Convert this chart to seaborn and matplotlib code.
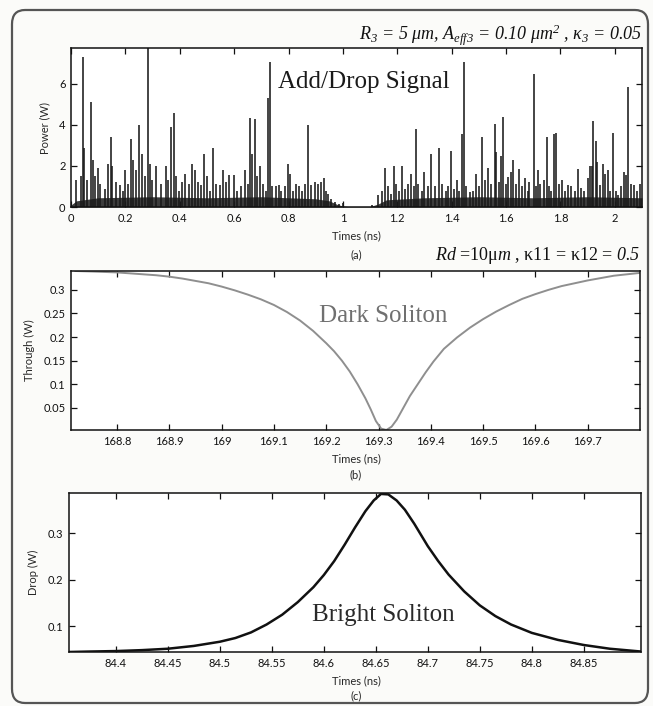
import numpy as np
import pandas as pd
import matplotlib
matplotlib.use("Agg")
import matplotlib.pyplot as plt
from matplotlib.patches import FancyBboxPatch
from matplotlib.ticker import FuncFormatter
import seaborn as sns

# ---------------- data ----------------
# (a) Add/Drop signal: spike times (ns) and peak powers (W)
spike_t = [0.020, 0.035, 0.043, 0.048, 0.060, 0.075, 0.082, 0.090, 0.099, 0.108,
           0.124, 0.136, 0.146, 0.152, 0.167, 0.180, 0.190, 0.200, 0.210, 0.220,
           0.229, 0.240, 0.250, 0.262, 0.273, 0.284, 0.290, 0.298, 0.314, 0.332,
           0.348, 0.357, 0.368, 0.379, 0.387, 0.397, 0.410, 0.420, 0.434, 0.445,
           0.455, 0.467, 0.479, 0.489, 0.499, 0.510, 0.523, 0.535, 0.547, 0.560,
           0.571, 0.582, 0.598, 0.611, 0.626, 0.641, 0.651, 0.658, 0.665, 0.676,
           0.685, 0.695, 0.706, 0.717, 0.725, 0.733, 0.740, 0.755, 0.764, 0.773,
           0.788, 0.798, 0.805, 0.817, 0.828, 0.840, 0.850, 0.860, 0.873, 0.881,
           0.896, 0.908, 0.918, 0.930, 0.939, 0.947, 0.957, 0.970, 0.984, 1.000,
           1.107, 1.129, 1.144, 1.156, 1.166, 1.178, 1.188, 1.195, 1.207, 1.217,
           1.229, 1.241, 1.251, 1.260, 1.270, 1.278, 1.290, 1.300, 1.312, 1.324,
           1.340, 1.354, 1.366, 1.379, 1.388, 1.397, 1.408, 1.419, 1.428, 1.438,
           1.445, 1.454, 1.466, 1.477, 1.489, 1.499, 1.513, 1.523, 1.532, 1.543,
           1.558, 1.563, 1.573, 1.580, 1.588, 1.599, 1.609, 1.619, 1.626, 1.636,
           1.646, 1.658, 1.668, 1.679, 1.686, 1.701, 1.710, 1.717, 1.726, 1.738,
           1.750, 1.759, 1.766, 1.776, 1.783, 1.793, 1.805, 1.818, 1.827, 1.840,
           1.852, 1.864, 1.876, 1.888, 1.900, 1.908, 1.915, 1.921, 1.929, 1.935,
           1.945, 1.955, 1.964, 1.974, 1.983, 1.992, 2.003, 2.013, 2.023, 2.032,
           2.040, 2.049, 2.058, 2.069, 2.081, 2.093]
spike_p = [1.3, 1.5, 7.3, 2.9, 1.3, 5.1, 2.3, 1.5, 1.9, 1.1,
           0.9, 2.1, 3.4, 2.0, 1.2, 1.05, 0.8, 1.8, 1.1, 3.3,
           2.3, 1.8, 4.0, 2.6, 1.5, 8.0, 2.1, 1.3, 2.0, 1.1,
           2.0, 1.3, 3.9, 4.6, 1.5, 0.8, 1.2, 1.6, 1.1, 2.1,
           1.8, 1.2, 1.05, 2.6, 1.5, 0.8, 2.9, 1.1, 1.05, 1.8,
           1.2, 1.55, 1.55, 0.8, 1.0, 1.8, 1.1, 4.35, 2.6, 4.3,
           1.5, 2.0, 1.1, 0.8, 5.3, 7.07, 1.0, 1.0, 1.05, 0.8,
           1.0, 2.1, 1.6, 0.8, 1.1, 1.0, 0.8, 1.1, 4.0, 1.05,
           1.2, 1.1, 1.2, 1.4, 0.8, 0.65, 0.4, 0.25, 0.15, 0.2,
           0.08, 0.57, 0.8, 1.9, 1.0, 0.65, 2.0, 1.1, 0.8, 2.0,
           0.9, 1.1, 1.6, 1.0, 3.8, 1.1, 0.8, 1.7, 1.0, 2.6,
           1.0, 2.9, 1.1, 0.8, 1.0, 2.75, 0.9, 1.3, 0.8, 3.55,
           7.05, 1.0, 0.75, 0.8, 1.6, 1.0, 3.4, 1.3, 1.9, 1.1,
           4.05, 2.7, 1.2, 2.5, 4.4, 1.1, 1.45, 1.7, 2.3, 1.1,
           1.85, 1.0, 1.4, 0.8, 1.2, 6.5, 1.0, 1.8, 1.1, 1.3,
           3.4, 1.0, 0.8, 3.55, 3.6, 1.1, 1.3, 0.8, 1.05, 1.0,
           0.8, 1.85, 0.95, 0.8, 1.4, 2.0, 2.0, 4.2, 3.2, 2.2,
           1.05, 2.1, 1.6, 1.8, 0.8, 3.6, 0.8, 0.57, 1.0, 1.7,
           1.55, 5.85, 1.1, 1.05, 0.8, 1.1]
# dense noise floor under the spikes (envelope)
floor_t = [0.0, 0.02, 0.10, 0.30, 0.50, 0.70, 0.90, 0.95, 0.98, 1.00, 1.02,
           1.10, 1.13, 1.16, 1.30, 1.50, 1.70, 1.90, 2.10]
floor_p = [0.10, 0.30, 0.45, 0.50, 0.45, 0.50, 0.40, 0.30, 0.12, 0.05, 0.02,
           0.02, 0.15, 0.35, 0.45, 0.50, 0.45, 0.50, 0.45]

# (b) Dark soliton (through port)
dark_t = [168.72, 168.75, 168.775, 168.80, 168.825, 168.85, 168.875, 168.90,
          168.925, 168.95, 168.975, 169.00, 169.025, 169.05, 169.075, 169.10,
          169.125, 169.15, 169.175, 169.20, 169.215, 169.23, 169.245, 169.26,
          169.275, 169.285, 169.295, 169.305, 169.315, 169.325, 169.335, 169.345,
          169.36, 169.375, 169.39, 169.405, 169.425, 169.45, 169.475, 169.50,
          169.525, 169.55, 169.575, 169.60, 169.625, 169.65, 169.675, 169.70,
          169.725, 169.75, 169.775, 169.80]
dark_p = [0.340, 0.339, 0.338, 0.337, 0.335, 0.333, 0.331, 0.328,
          0.324, 0.319, 0.314, 0.307, 0.299, 0.290, 0.280, 0.268,
          0.253, 0.235, 0.213, 0.187, 0.170, 0.150, 0.127, 0.100,
          0.070, 0.047, 0.022, 0.006, 0.003, 0.010, 0.025, 0.045,
          0.075, 0.100, 0.125, 0.148, 0.175, 0.199, 0.220, 0.238,
          0.254, 0.268, 0.281, 0.291, 0.300, 0.308, 0.314, 0.320,
          0.325, 0.330, 0.333, 0.336]

# (c) Bright soliton (drop port)
bright_t = [84.355, 84.375, 84.40, 84.425, 84.45, 84.475, 84.50, 84.515, 84.53,
            84.545, 84.56, 84.575, 84.59, 84.60, 84.61, 84.62, 84.63, 84.64,
            84.648, 84.655, 84.662, 84.67, 84.678, 84.687, 84.70, 84.71, 84.72,
            84.735, 84.75, 84.765, 84.78, 84.80, 84.825, 84.85, 84.875, 84.905]
bright_p = [0.045, 0.046, 0.047, 0.049, 0.052, 0.058, 0.067, 0.075, 0.087,
            0.104, 0.125, 0.152, 0.184, 0.210, 0.240, 0.275, 0.312, 0.347,
            0.370, 0.384, 0.383, 0.370, 0.350, 0.320, 0.272, 0.240, 0.211,
            0.175, 0.145, 0.122, 0.104, 0.086, 0.071, 0.060, 0.052, 0.046]

ticks_a = [0, 0.2, 0.4, 0.6, 0.8, 1.0, 1.2, 1.4, 1.6, 1.8, 2.0]
yticks_a = [0, 2, 4, 6]
ticks_b = [168.8, 168.9, 169.0, 169.1, 169.2, 169.3, 169.4, 169.5, 169.6, 169.7]
yticks_b = [0.05, 0.1, 0.15, 0.2, 0.25, 0.3]
ticks_c = [84.4, 84.45, 84.5, 84.55, 84.6, 84.65, 84.7, 84.75, 84.8, 84.85]
yticks_c = [0.1, 0.2, 0.3]

# ---------------- style ----------------
sns.set_theme(style="ticks")
plt.rcParams['font.family'] = ['Lato', 'DejaVu Sans']
plt.rcParams['mathtext.fontset'] = 'custom'
plt.rcParams['mathtext.rm'] = 'Liberation Serif:italic'
plt.rcParams['mathtext.it'] = 'Liberation Serif:italic'
plt.rcParams['mathtext.bf'] = 'Liberation Serif:bold'

W, H = 653, 706
fig = plt.figure(figsize=(W / 100, H / 100), dpi=100)
fig.patch.set_facecolor('#fbfbf9')

def box(l, r, t, b):
    return [l / W, 1 - b / H, (r - l) / W, (b - t) / H]

ax_a = fig.add_axes(box(71, 642, 48, 207))
ax_b = fig.add_axes(box(71, 640, 271, 430))
ax_c = fig.add_axes(box(69, 641, 493, 652))

fmt = FuncFormatter(lambda v, p: ('%g' % round(v, 4)))

def style(ax, xt, yt):
    ax.set_facecolor('white')
    for s in ax.spines.values():
        s.set_visible(True)
        s.set_linewidth(1.1)
        s.set_color('#111111')
    ax.set_xticks(xt)
    ax.set_yticks(yt)
    ax.xaxis.set_major_formatter(fmt)
    ax.yaxis.set_major_formatter(fmt)
    ax.tick_params(direction='in', length=4, width=0.9, top=True, right=True,
                   labelsize=8, colors='#111111', pad=4)
    ax.grid(False)

# (a)
ax_a.fill_between(floor_t, 0, floor_p, color='#1a1a1a', alpha=0.85, linewidth=0)
ax_a.vlines(spike_t, 0, spike_p, color='#1a1a1a', linewidth=1.15)
ax_a.set_xlim(0, 2.1)
ax_a.set_ylim(0, 7.75)
style(ax_a, ticks_a, yticks_a)
ax_a.set_ylabel('Power (W)', fontsize=8, labelpad=6)
ax_a.text(1.077, 6.1, 'Add/Drop Signal', family='Liberation Serif', fontsize=18,
          ha='center', va='center', color='#1a1a1a')

# (b)
df_b = pd.DataFrame({'t': dark_t, 'p': dark_p})
sns.lineplot(data=df_b, x='t', y='p', ax=ax_b, color='#8f8f8f', linewidth=1.4)
ax_b.set_xlim(168.712, 169.80)
ax_b.set_ylim(0.003, 0.34)
style(ax_b, ticks_b, yticks_b)
ax_b.set_ylabel('Through (W)', fontsize=8, labelpad=6)
ax_b.text(169.308, 0.245, 'Dark Soliton', family='Liberation Serif', fontsize=18,
          ha='center', va='center', color='#707070')

# (c)
df_c = pd.DataFrame({'t': bright_t, 'p': bright_p})
sns.lineplot(data=df_c, x='t', y='p', ax=ax_c, color='#111111', linewidth=1.8)
ax_c.set_xlim(84.355, 84.905)
ax_c.set_ylim(0.045, 0.386)
style(ax_c, ticks_c, yticks_c)
ax_c.set_ylabel('Drop (W)', fontsize=8, labelpad=6)
ax_c.text(84.657, 0.124, 'Bright Soliton', family='Liberation Serif', fontsize=18,
          ha='center', va='center', color='#2a2a2a')

for ax in (ax_a, ax_b, ax_c):
    ax.set_xlabel('')

# x labels and panel letters
def ftext(x, y, s, **kw):
    fig.text(x / W, 1 - y / H, s, ha='center', va='center', **kw)

ftext(356, 236, 'Times (ns)', fontsize=8)
ftext(356, 255, '(a)', fontsize=8)
ftext(356, 459, 'Times (ns)', fontsize=8)
ftext(356, 475, '(b)', fontsize=8)
ftext(356, 681, 'Times (ns)', fontsize=8)
ftext(356, 696, '(c)', fontsize=8)

fig.text(642 / W, 1 - 35 / H,
         r'R$_3$ = 5 μm, A$_{eff3}$ = 0.10 μm$^2$ , κ$_3$ = 0.05',
         ha='right', va='center', family='Liberation Serif', fontsize=13,
         style='italic', color='#111111')
fig.text(640 / W, 1 - 256 / H,
         r'$Rd$ =10μ$m$ , κ11 = κ12 = $0.5$',
         ha='right', va='center', family='Liberation Serif', fontsize=13,
         color='#111111')

# rounded frame
frame = FancyBboxPatch((12 / W, 3 / H), (636 / W), (693 / H),
                       boxstyle='round,pad=0,rounding_size=0.02',
                       transform=fig.transFigure, fill=False,
                       edgecolor='#555555', linewidth=1.6)
fig.patches.append(frame)

fig.savefig('out.png', dpi=100, facecolor=fig.get_facecolor())
